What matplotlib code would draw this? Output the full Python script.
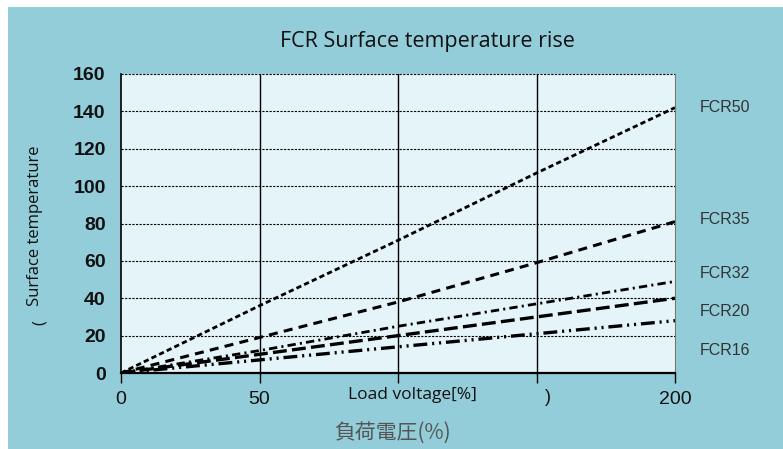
import matplotlib
matplotlib.use("Agg")
import matplotlib.pyplot as plt
from matplotlib.patches import Rectangle

plt.rcParams["lines.scale_dashes"] = False

# ---- data ----
load_voltage = [0, 50, 100, 150, 200]
series_names = ["FCR50", "FCR35", "FCR32", "FCR20", "FCR16"]
fcr50 = [0, 36, 71, 107, 142]
fcr35 = [0, 19, 38, 59, 81]
fcr32 = [0, 12, 25, 37, 49]
fcr20 = [0, 10, 20, 30, 40]
fcr16 = [0, 7, 14, 21, 28]
series_values = [fcr50, fcr35, fcr32, fcr20, fcr16]
label_y = [142, 82, 53, 33, 12]
x_ticks = [0, 50, 100, 150, 200]
x_ticklabels = ["0", "50", "", "", "200"]
y_ticks = [0, 20, 40, 60, 80, 100, 120, 140, 160]

W, H = 783, 449
fig = plt.figure(figsize=(W / 100, H / 100), dpi=100)
fig.patch.set_facecolor("white")

outer = "#93CDDA"
fig.patches.append(Rectangle((8 / W, 0), 1 - 8 / W, 1 - 7 / H,
                             transform=fig.transFigure, facecolor=outer,
                             edgecolor="none", zorder=-10))

ax = fig.add_axes([121 / W, 1 - 373 / H, (675 - 121) / W, (373 - 74) / H])
ax.set_facecolor("#E5F4F8")
ax.set_xlim(0, 200)
ax.set_ylim(0, 160)

# grid
for yv in y_ticks[1:]:
    ax.axhline(yv, color="black", lw=0.8, dashes=(1.6, 1.0), zorder=1)
for xv in x_ticks[1:-1]:
    ax.axvline(xv, color="black", lw=1.0, zorder=1)

styles = [
    dict(lw=2.0, dashes=(3.8, 2.3)),
    dict(lw=2.2, dashes=(6.5, 4.5)),
    dict(lw=2.0, dashes=(6, 3, 1.5, 3)),
    dict(lw=2.4, dashes=(10, 3.8)),
    dict(lw=2.4, dashes=(10, 3.5, 1.5, 3.5, 1.5, 3.5)),
]
for vals, st in zip(series_values, styles):
    ax.plot(load_voltage, vals, color="black", zorder=3, solid_capstyle="butt",
            dash_capstyle="butt", **st)

ax.spines["top"].set_visible(False)
ax.spines["right"].set_color("#777777")
ax.spines["right"].set_linewidth(0.8)
ax.spines["left"].set_color("black")
ax.spines["left"].set_linewidth(1.2)
ax.spines["bottom"].set_color("black")
ax.spines["bottom"].set_linewidth(1.6)

ax.set_xticks(x_ticks)
ax.set_xticklabels(x_ticklabels)
ax.set_yticks(y_ticks)
ax.tick_params(axis="x", direction="out", length=7, width=1.0, pad=6,
               labelsize=14, labelcolor="#111111")
ax.tick_params(axis="y", length=0, pad=11, labelsize=14, labelcolor="#111111")
for lab in ax.get_xticklabels() + ax.get_yticklabels():
    lab.set_fontfamily("Liberation Sans")
for lab in ax.get_yticklabels():
    lab.set_fontweight("bold")

# right-hand labels
for name, yv in zip(series_names, label_y):
    ax.text(1.045, yv, name, transform=ax.get_yaxis_transform(),
            fontsize=11.5, color="#333333", family="Liberation Sans",
            va="center", ha="left")

fig.text(427 / W, 1 - 42 / H, "FCR Surface temperature rise", fontsize=15.5,
         family="Open Sans", ha="center", va="center", color="#111111")
fig.text(35 / W, 1 - 226 / H, "Surface temperature", rotation=90, fontsize=12,
         family="Open Sans", ha="center", va="center", color="#111111")
fig.text(40 / W, 1 - 323 / H, "(", rotation=90, fontsize=12,
         family="Open Sans", ha="center", va="center", color="#111111")
fig.text(412 / W, 1 - 395 / H, "Load voltage[%]", fontsize=12.5,
         family="Open Sans", ha="center", va="center", color="#111111")
fig.text(548 / W, 1 - 397 / H, ")", fontsize=13,
         family="Liberation Sans", ha="center", va="center", color="#111111")
fig.text(393 / W, 1 - 433 / H, "負荷電圧(%)", fontsize=15,
         family=["Noto Sans CJK JP", "DejaVu Sans"], ha="center", va="center",
         color="#555555")

fig.savefig("out.png", dpi=100, facecolor=fig.get_facecolor())
